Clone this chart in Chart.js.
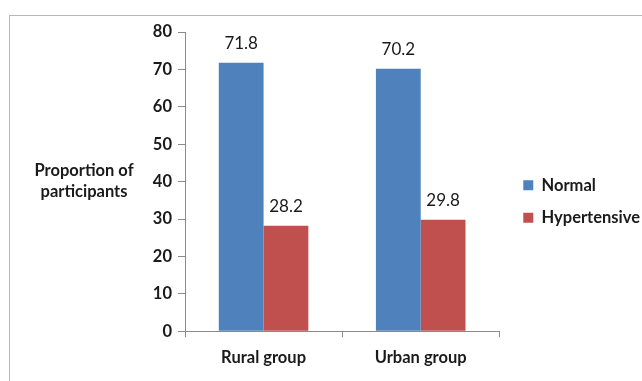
<!DOCTYPE html>
<html>
<head>
<meta charset="utf-8">
<script src="https://cdn.jsdelivr.net/npm/chart.js@4"></script>
<style>
  body { margin: 0; background: #fff; }
  #wrap { position: relative; width: 642px; height: 381px; overflow: hidden; }
  #frame { position: absolute; left: 9px; top: 15px; width: 700px; height: 400px; border: 1px solid #b8b8b8; }
  canvas { position: absolute; left: 0; top: 0; }
</style>
</head>
<body>
<div id="wrap">
  <div id="frame"></div>
  <canvas id="barChart" width="642" height="381"></canvas>
</div>
<script>
// data
const groups = ['Rural group', 'Urban group'];
const normalValues = [71.8, 70.2];
const hypertensiveValues = [28.2, 29.8];
const yTitle = ['Proportion of', 'participants'];

const FONT = "Lato, 'Open Sans', sans-serif";

// horizontal y axis title on the left
const yTitlePlugin = {
  id: 'yTitle',
  afterDraw(chart) {
    const ctx = chart.ctx;
    ctx.save();
    ctx.font = 'bold 16.5px ' + FONT;
    ctx.fillStyle = '#1a1a1a';
    ctx.textAlign = 'center';
    ctx.textBaseline = 'middle';
    ctx.fillText(yTitle[0], 84, 171);
    ctx.fillText(yTitle[1], 84, 192);
    ctx.restore();
  }
};

// value labels above the bars
const valueLabels = {
  id: 'valueLabels',
  afterDatasetsDraw(chart) {
    const ctx = chart.ctx;
    ctx.save();
    ctx.font = '17px ' + FONT;
    ctx.fillStyle = '#1a1a1a';
    ctx.textAlign = 'center';
    ctx.textBaseline = 'middle';
    chart.data.datasets.forEach((ds, i) => {
      chart.getDatasetMeta(i).data.forEach((bar, j) => {
        ctx.fillText(ds.data[j].toFixed(1), bar.x, bar.y - 19);
      });
    });
    ctx.restore();
  }
};

// nudge the legend a little right and up
const legendNudge = {
  id: 'legendNudge',
  afterLayout(chart) {
    const lg = chart.legend;
    if (!lg) return;
    lg.left += 8; lg.right += 8;
    lg.top -= 4; lg.bottom -= 4;
  }
};

const barChartData = {
  labels: groups,
  datasets: [{
    label: 'Normal',
    data: normalValues,
    backgroundColor: '#4F81BD'
  }, {
    label: 'Hypertensive',
    data: hypertensiveValues,
    backgroundColor: '#C0504D'
  }]
};

const barChartConfig = {
  type: 'bar',
  data: barChartData,
  options: {
    responsive: false,
    animation: false,
    layout: {
      padding: { top: 32, right: 0, bottom: 2, left: 0 }
    },
    datasets: {
      bar: { barPercentage: 1, categoryPercentage: 0.57 }
    },
    scales: {
      x: {
        grid: { display: true, drawOnChartArea: false, offset: true, tickLength: 6, color: '#8a8a8a' },
        border: { color: '#8a8a8a' },
        ticks: { color: '#1a1a1a', font: { family: FONT, size: 16.5, weight: 'bold' }, padding: 11 }
      },
      y: {
        min: 0,
        max: 80,
        afterFit(scale) { scale.width = 185; },
        grid: { display: true, drawOnChartArea: false, tickLength: 7, color: '#8a8a8a' },
        border: { color: '#8a8a8a' },
        ticks: { stepSize: 10, color: '#1a1a1a', font: { family: FONT, size: 16.5, weight: 'bold' }, padding: 6 }
      }
    },
    plugins: {
      tooltip: { enabled: false },
      legend: {
        position: 'right',
        labels: {
          boxWidth: 10,
          boxHeight: 10,
          padding: 16,
          color: '#1a1a1a',
          font: { family: FONT, size: 16.5, weight: 'bold' }
        }
      }
    }
  },
  plugins: [yTitlePlugin, valueLabels, legendNudge]
};

const barChart = new Chart(
  document.getElementById('barChart'),
  barChartConfig
);
</script>
</body>
</html>
